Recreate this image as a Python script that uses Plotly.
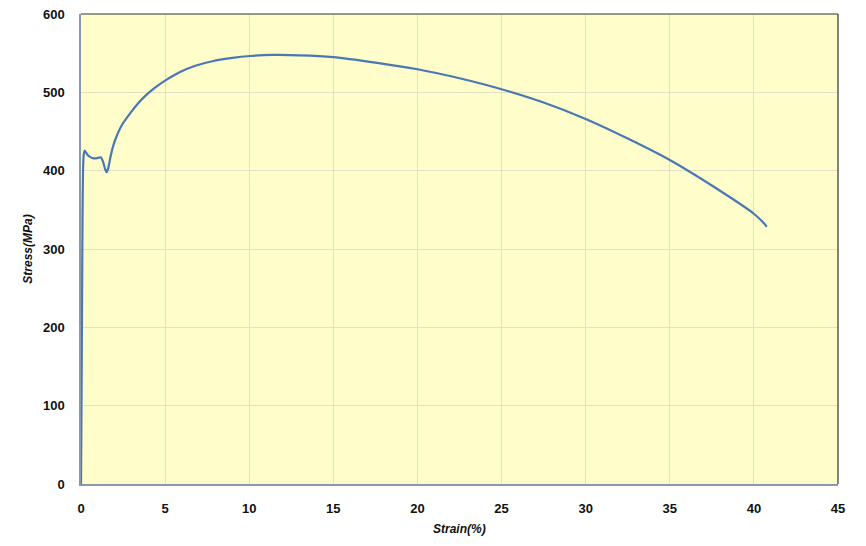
import plotly.graph_objects as go

strain = [0.0, 0.03, 0.06, 0.09, 0.12, 0.16, 0.22, 0.3, 0.4, 0.51, 0.7, 0.91, 1.05, 1.17, 1.31, 1.42, 1.52,
          1.62, 1.72, 1.82, 1.92, 2.1, 2.4, 2.95, 3.4, 3.9, 4.4, 5.0, 5.89, 6.8, 7.87, 9.0, 10.05, 11.43, 13.0,
          15.0, 17.5, 20.0, 22.5, 25.0, 27.5, 30.0, 32.5, 35.0, 37.5, 40.0, 40.5, 40.77]
stress = [0, 100, 220, 340, 400, 420, 425.5, 423, 420, 418, 416, 415.8, 416.5, 417, 411.5, 403, 398,
          403, 414, 424, 432, 443, 457, 474, 486, 497, 506, 515, 526, 534, 540, 544, 546.4, 547.7, 547.3,
          545, 538, 529.5, 518, 504, 487, 466, 441, 413.6, 381, 345, 335, 328.5]

x_ticks = [0, 5, 10, 15, 20, 25, 30, 35, 40, 45]
y_ticks = [0, 100, 200, 300, 400, 500, 600]

fig = go.Figure()
fig.add_trace(go.Scatter(x=strain, y=stress, mode="lines",
                         line=dict(color="#4a78b5", width=2.2, shape="spline", smoothing=0.5), showlegend=False))

tickfont = dict(family="Liberation Sans Narrow, Arial Narrow, Liberation Sans, sans-serif", size=13, color="#111", weight="bold")
titlefont = dict(family="Liberation Sans, Arial, sans-serif", size=12, color="#111", weight="bold", style="italic")

fig.update_layout(
    width=850, height=530,
    margin=dict(l=73, r=20, t=6, b=54),
    paper_bgcolor="white",
    plot_bgcolor="#fffdc9",
    xaxis=dict(range=[0, 45], tickvals=x_ticks, ticktext=[str(v) for v in x_ticks], showgrid=True, automargin=False,
               gridcolor="#e3e0c6", gridwidth=1, zeroline=False, showline=True, linecolor="#8a98ab", linewidth=1.5,
               tickfont=tickfont, ticks="", ticklabelstandoff=12, ticklabeloverflow="allow"),
    yaxis=dict(range=[0, 600], tickvals=y_ticks, ticktext=[str(v) for v in y_ticks], showgrid=True, automargin=False,
               gridcolor="#e3e0c6", gridwidth=1, zeroline=False, showline=True, linecolor="#8a98ab", linewidth=1.5,
               tickfont=tickfont, ticks="", ticklabelstandoff=12, ticklabeloverflow="allow",
               title=dict(text="Stress(MPa)", font=titlefont, standoff=8)),
    annotations=[dict(text="Strain(%)", xref="paper", yref="paper", x=0.5, y=-0.112, xanchor="center",
                      yanchor="bottom", showarrow=False, font=titlefont, borderpad=0)],
    shapes=[
        dict(type="line", xref="paper", yref="paper", x0=0, x1=1, y0=1, y1=1, line=dict(color="#333", width=1.2)),
        dict(type="line", xref="paper", yref="paper", x0=1, x1=1, y0=0, y1=1, line=dict(color="#333", width=1.2)),
    ],
)

fig.write_html("out.html")
